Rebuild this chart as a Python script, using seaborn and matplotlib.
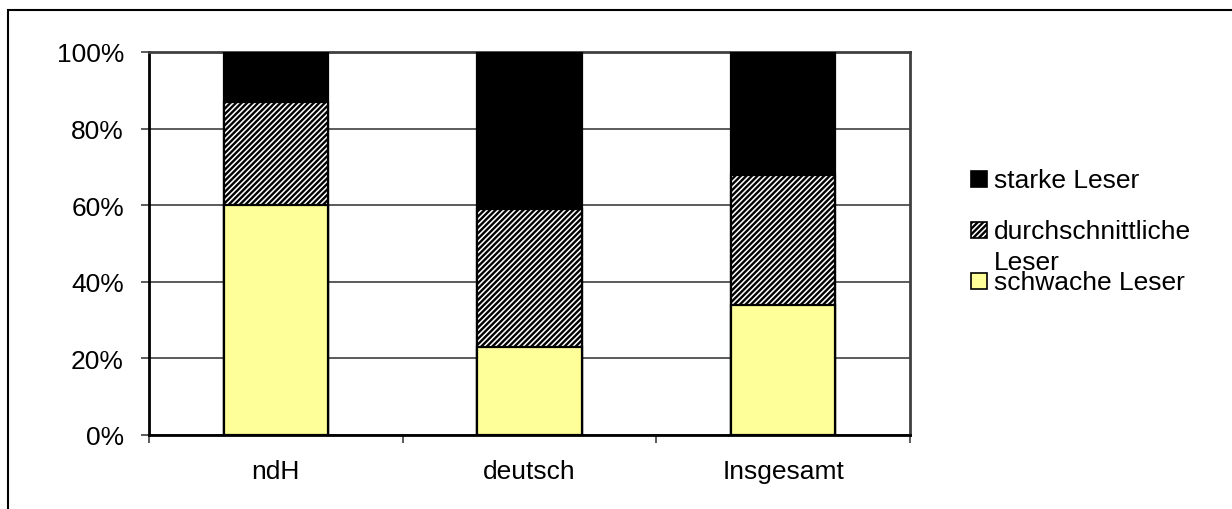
import matplotlib
matplotlib.use("Agg")
import matplotlib.pyplot as plt
from matplotlib.patches import Rectangle
from matplotlib.ticker import FuncFormatter
import seaborn as sns
import pandas as pd

# data (percent per group)
categories = ["ndH", "deutsch", "Insgesamt"]
schwach = [60, 23, 34]
durchschnitt = [27, 36, 34]
stark = [13, 41, 32]

df = pd.DataFrame({
    "gruppe": categories,
    "schwach": schwach,
    "durchschnitt": durchschnitt,
    "stark": stark,
})
# cumulative heights, drawn from tallest to shortest so they stack
df["cum_durch"] = df["schwach"] + df["durchschnitt"]
df["cum_stark"] = df["cum_durch"] + df["stark"]

sns.set_style("white")
plt.rcParams["font.family"] = ["Liberation Sans", "DejaVu Sans"]
plt.rcParams["hatch.linewidth"] = 1.7
plt.rcParams["hatch.color"] = "black"
plt.rcParams["text.color"] = "black"
plt.rcParams["xtick.color"] = "black"
plt.rcParams["ytick.color"] = "black"

FS = 19
YELLOW = "#FFFF99"
HATCH = "//////"

fig = plt.figure(figsize=(12.32, 5.10), dpi=100)
ax = fig.add_axes([149 / 1232, 74 / 510, 761 / 1232, 383 / 510])

bar_kw = dict(width=0.41, edgecolor="black", linewidth=1.6, ax=ax, zorder=3)
sns.barplot(data=df, x="gruppe", y="cum_stark", color="black", **bar_kw)
sns.barplot(data=df, x="gruppe", y="cum_durch", color="white", hatch=HATCH, **bar_kw)
sns.barplot(data=df, x="gruppe", y="schwach", color=YELLOW, **bar_kw)

# seaborn desaturates colours; set them back exactly
n = len(categories)
for i, p in enumerate(ax.patches):
    layer = i // n
    if layer == 0:
        p.set_facecolor("black")
    elif layer == 1:
        p.set_facecolor("white")
    else:
        p.set_facecolor(YELLOW)
    p.set_edgecolor("black")

ax.set_ylim(0, 100)
ax.set_xlim(-0.5, n - 0.5)
ax.set_yticks([0, 20, 40, 60, 80, 100])
ax.yaxis.set_major_formatter(FuncFormatter(lambda v, _: f"{v:.0f}%"))
ax.yaxis.grid(True, color="#404040", linewidth=1.2, zorder=0)
ax.set_axisbelow(True)

ax.set_xlabel("")
ax.set_ylabel("")
ax.set_xticks(range(n))
ax.set_xticklabels(categories)
ax.set_xticks([i - 0.5 for i in range(n + 1)], minor=True)
ax.tick_params(axis="x", which="major", length=0, pad=17, labelsize=FS,
               labelcolor="black")
ax.tick_params(axis="x", which="minor", length=6, width=1.2, color="#404040",
               direction="out", bottom=True)
ax.tick_params(axis="y", length=6, width=1.2, color="#404040", direction="out",
               left=True, pad=12, labelsize=FS, labelcolor="black")

for side, sp in ax.spines.items():
    sp.set_visible(True)
    sp.set_color("black")
    sp.set_linewidth(2)
ax.spines["top"].set_color("#404040")
ax.spines["right"].set_color("#404040")

# legend, drawn by hand to mimic the wrapped Excel legend
def fx(px):
    return px / 1232

def fy(py):
    return 1 - py / 510

legend_items = [
    ("black", None, ["starke Leser"], 188),
    ("white", HATCH, ["durchschnittliche", "Leser"], 239),
    (YELLOW, None, ["schwache Leser"], 290),
]
for color, hatch, lines, base in legend_items:
    fig.patches.append(Rectangle((fx(971), fy(base)), 16 / 1232, 16 / 510,
                                 transform=fig.transFigure, facecolor=color,
                                 hatch=hatch, edgecolor="black", linewidth=1.2))
    for k, line in enumerate(lines):
        fig.text(fx(994), fy(base + 31 * k), line, fontsize=FS,
                 va="baseline", ha="left", color="black")

# outer chart frame
fig.patches.append(Rectangle((8 / 1232, -0.05), 1.1, fy(11) + 0.05,
                             transform=fig.transFigure, fill=False,
                             edgecolor="black", linewidth=1.5))

fig.savefig("out.png", dpi=100)
plt.close(fig)
